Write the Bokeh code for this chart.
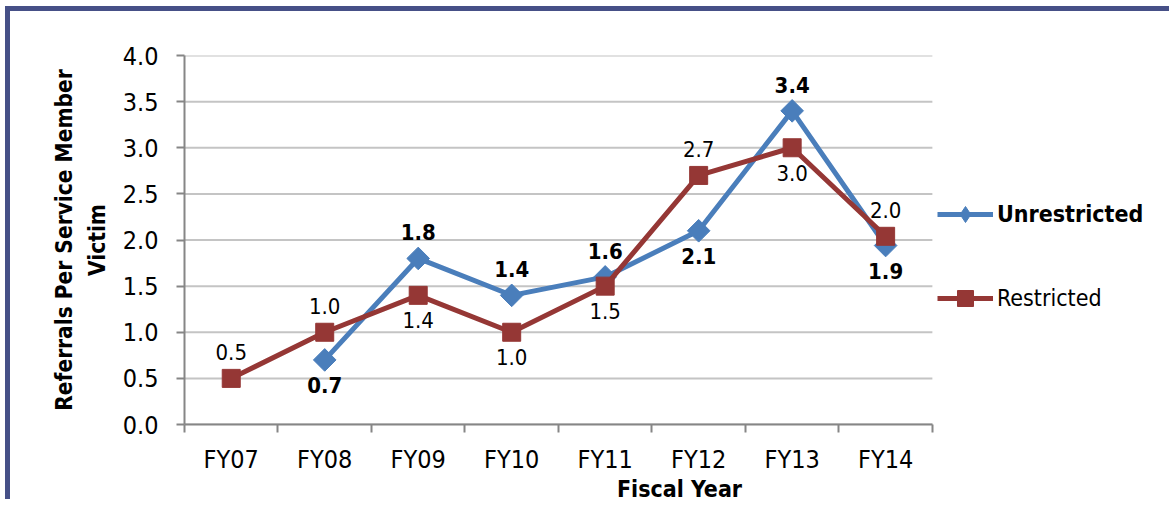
from bokeh.plotting import figure
from bokeh.models import (Range1d, FixedTicker, ColumnDataSource, Legend, LegendItem,
                          PrintfTickFormatter)
from bokeh.embed import file_html
from bokeh.resources import INLINE
import math

# ---- data ----
categories = ["FY07", "FY08", "FY09", "FY10", "FY11", "FY12", "FY13", "FY14"]
unrestricted = [float("nan"), 0.7, 1.8, 1.4, 1.6, 2.1, 3.4, 1.94]
restricted = [0.5, 1.0, 1.4, 1.0, 1.5, 2.7, 3.0, 2.04]
y_ticks = [0.0, 0.5, 1.0, 1.5, 2.0, 2.5, 3.0, 3.5, 4.0]

# ---- style ----
FONT = "'DejaVu Sans Condensed', 'DejaVu Sans', sans-serif"
BLUE = "#4A7EBB"
RED = "#953735"
FRAME_BLUE = "#465087"
unres_label_pos = ["", "below", "above", "above", "above", "below", "above", "below"]
res_label_pos = ["above", "above", "below", "below", "below", "above", "below", "above"]

n = len(categories)
xs = [i + 0.5 for i in range(n)]

p = figure(width=1164, height=493, output_backend="svg", toolbar_location=None,
           x_range=Range1d(0, 10.59), y_range=Range1d(0, 4),
           min_border_left=174, min_border_right=0, min_border_top=44,
           min_border_bottom=80)
p.styles = {"margin-left": "10px", "margin-top": "11px",
            "box-shadow": "-5px -5px 0px 0px " + FRAME_BLUE}
p.outline_line_color = None
p.background_fill_color = "white"
p.border_fill_color = "white"

# axes
p.xaxis.ticker = FixedTicker(ticks=xs, minor_ticks=list(range(n + 1)))
p.xaxis.bounds = (0, n)
p.xaxis.major_label_overrides = {x: c for x, c in zip(xs, categories)}
p.xaxis.major_tick_out = 0
p.xaxis.major_tick_in = 0
p.xaxis.minor_tick_out = 8
p.xaxis.minor_tick_in = 0
p.xaxis.minor_tick_line_color = "#868686"
p.xaxis.minor_tick_line_width = 2
p.xaxis.major_label_standoff = 12
p.xaxis.axis_label = "Fiscal Year"
p.xaxis.axis_label_standoff = -1

p.yaxis.ticker = FixedTicker(ticks=y_ticks)
p.yaxis.formatter = PrintfTickFormatter(format="%.1f")
p.yaxis.major_tick_out = 8
p.yaxis.major_tick_in = 0
p.yaxis.minor_tick_out = 0
p.yaxis.minor_tick_in = 0
p.yaxis.major_label_standoff = 18
p.yaxis.axis_label = "Referrals Per Service Member\nVictim"
p.yaxis.axis_label_standoff = 10
p.yaxis.axis_label_text_line_height = 1.25

for ax in (p.xaxis, p.yaxis):
    ax.axis_line_color = "#868686"
    ax.axis_line_width = 2
    ax.major_tick_line_color = "#868686"
    ax.major_tick_line_width = 2
    ax.major_label_text_font = FONT
    ax.major_label_text_font_size = "25px"
    ax.major_label_text_color = "black"
    ax.axis_label_text_font = FONT
    ax.axis_label_text_font_style = "bold"
    ax.axis_label_text_color = "black"
p.xaxis.axis_label_text_font_size = "23px"
p.yaxis.axis_label_text_font_size = "22.5px"

p.xgrid.grid_line_color = None
p.ygrid.grid_line_color = None

# horizontal gridlines across the category span
p.segment(x0=[0] * len(y_ticks), x1=[n] * len(y_ticks), y0=y_ticks, y1=y_ticks,
          line_color="#C4C4C4", line_width=2)

# series
src_u = ColumnDataSource(dict(x=xs, y=unrestricted))
src_r = ColumnDataSource(dict(x=xs, y=restricted))

lu = p.line("x", "y", source=src_u, line_color=BLUE, line_width=5)
p.scatter("x", "y", source=src_u, marker="square", angle=math.pi / 4, size=16,
          fill_color=BLUE, line_color=BLUE)
lr = p.line("x", "y", source=src_r, line_color=RED, line_width=5)
p.scatter("x", "y", source=src_r, marker="square", size=18,
          fill_color=RED, line_color=RED)

# legend marker renderers (nothing drawn in the plot)
nan = float("nan")
du = p.scatter([nan], [nan], marker="diamond", fill_color=BLUE, line_color=BLUE)
dr = p.scatter([nan], [nan], marker="square", fill_color=RED, line_color=RED)

# data labels
def add_labels(vals, pos, bold):
    lx, ly, lt, off = [], [], [], []
    for x, v, ps in zip(xs, vals, pos):
        if v != v or ps == "":
            continue
        lx.append(x)
        ly.append(v)
        lt.append("%.1f" % v)
        off.append(-26 if ps == "above" else 25)
    s = ColumnDataSource(dict(x=lx, y=ly, t=lt, o=off))
    p.text("x", "y", text="t", source=s, y_offset="o", text_align="center",
           text_baseline="alphabetic", text_font_size="22px",
           text_font={"value": FONT}, text_color="black",
           text_font_style="bold" if bold else "normal")

add_labels(unrestricted, unres_label_pos, True)
add_labels(restricted, res_label_pos, False)

# legends
def make_legend(label, rends, loc, style):
    lg = Legend(items=[LegendItem(label=label, renderers=rends)], location=loc,
                orientation="vertical", padding=0, margin=0, spacing=0,
                glyph_width=56, glyph_height=40, label_standoff=4,
                border_line_color=None, background_fill_alpha=0,
                label_text_font=FONT, label_text_font_size="23px",
                label_text_font_style=style, label_text_color="black")
    p.add_layout(lg, "center")

make_legend("Unrestricted", [lu, du], (753, 190), "bold")
make_legend("Restricted", [lr, dr], (753, 106), "normal")

open("out.html", "w").write(file_html(p, INLINE))
